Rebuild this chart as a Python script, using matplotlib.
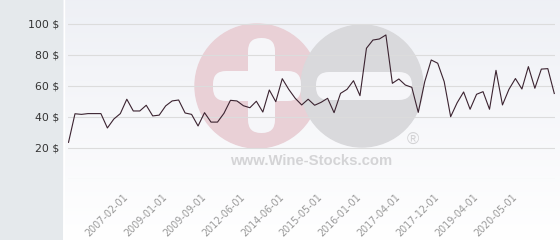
import matplotlib
matplotlib.use("Agg")
import matplotlib.pyplot as plt
import numpy as np
from matplotlib.patches import Circle, FancyBboxPatch

# price history (one point per listed quote, categorical x axis)
prices = [23.4, 41.9, 41.5, 42.0, 42.0, 42.0, 32.7, 38.5, 42.0, 51.3,
          43.7, 43.7, 47.4, 40.5, 41.0, 47.0, 50.2, 50.8, 42.4, 41.5,
          34.0, 42.6, 36.5, 36.5, 42.2, 50.6, 50.2, 47.1, 45.8, 50.0,
          43.0, 57.3, 49.7, 64.6, 57.7, 51.9, 47.6, 51.3, 47.4, 49.3,
          51.9, 42.6, 55.1, 57.7, 63.3, 53.6, 84.3, 89.6, 90.3, 92.9,
          61.6, 64.4, 60.5, 59.0, 42.8, 62.7, 76.7, 74.6, 62.7, 40.0,
          49.0, 56.0, 44.8, 54.5, 56.2, 44.8, 70.0, 47.6, 57.7, 64.7,
          57.9, 72.4, 58.4, 70.8, 71.1, 55.0]

tick_labels = ["2007-02-01", "2009-01-01", "2009-09-01", "2012-06-01",
               "2014-06-01", "2015-05-01", "2016-01-01", "2017-04-01",
               "2017-12-01", "2019-04-01", "2020-05-01"]
first_tick = 9
tick_step = 6

y_ticks = [0, 20, 40, 60, 80, 100]
y_labels = ["", "20 $", "40 $", "60 $", "80 $", "100 $"]

W, H = 560, 240
fig = plt.figure(figsize=(W / 100, H / 100), dpi=100)
fig.patch.set_facecolor("#e5e9ec")

# background panel with vertical gradient + watermark, in pixel coords
bg = fig.add_axes([63 / W, 0, 1 - 63 / W, 1])
bg.set_xlim(63, W)
bg.set_ylim(H, 0)
bg.axis("off")
grad = np.linspace(0, 1, 256).reshape(-1, 1)
top = np.array([0.935, 0.941, 0.962])
bot = np.array([1.0, 1.0, 1.0])
img = top + (bot - top) * grad[..., None]
bg.imshow(img, extent=[63, W, H, 0], aspect="auto", zorder=0)
bg.axvline(63.5, color="white", lw=1, zorder=1)

bg.add_patch(Circle((257, 86), 62, color="#e9d0d6", zorder=2))
bg.add_patch(Circle((362, 86), 61, color="#d9d9dc", zorder=3))
wm = dict(boxstyle="round,pad=0,rounding_size=13", color="#f6f6f9",
          zorder=4, lw=0)
bg.add_patch(FancyBboxPatch((248, 38), 27, 95, **wm))
bg.add_patch(FancyBboxPatch((213, 71), 88, 30, **wm))
bg.add_patch(FancyBboxPatch((316, 72), 96, 28, **wm))
bg.text(311, 161, "www.Wine-Stocks.com", family="Liberation Sans",
        weight="bold", fontsize=10.7, color="#d4d4d6",
        ha="center", va="center", zorder=4)
bg.text(413, 140, "\u00ae", family="Liberation Sans", fontsize=12,
        color="#d2d2d4", ha="center", va="center", zorder=4)

# main chart
ax = fig.add_axes([68 / W, (H - 178.5) / H, 487 / W, 177.7 / H])
ax.patch.set_alpha(0)
x = np.arange(len(prices))
ax.plot(x, prices, color="#3b2330", lw=0.8, zorder=3)
ax.set_xlim(-0.08, len(prices) - 1 + 0.11)
ax.set_ylim(0, 115)

ax.set_yticks(y_ticks)
ax.set_yticklabels(y_labels)
ax.yaxis.grid(True, color="#dcdcdc", lw=0.8)
ax.set_axisbelow(True)
for s in ax.spines.values():
    s.set_visible(False)
ax.tick_params(axis="y", length=0, pad=6.5, labelsize=7.8, labelcolor="#333333")

tick_pos = [first_tick + tick_step * k for k in range(len(tick_labels))]
ax.set_xticks(tick_pos)
ax.set_xticklabels(tick_labels, rotation=45, ha="right", va="center",
                   rotation_mode="anchor")
ax.tick_params(axis="x", length=0, pad=12, labelsize=6.9, labelcolor="#999999")

fig.savefig("out.png", dpi=100)
